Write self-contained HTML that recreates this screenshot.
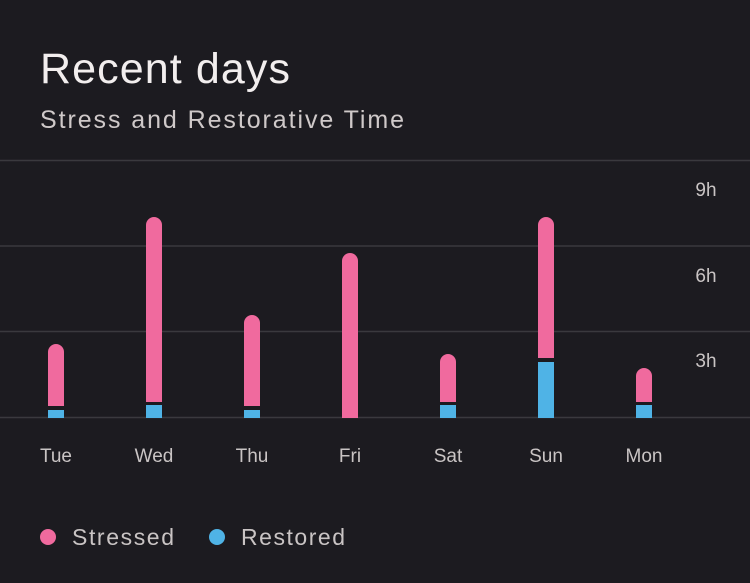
<!DOCTYPE html><html><head><style>
body{margin:0;width:750px;height:578px;background:#1c1b20;overflow:hidden;font-family:"Liberation Sans",sans-serif}
</style></head><body>
<svg width="750" height="578" xmlns="http://www.w3.org/2000/svg">
<rect width="750" height="578" fill="#1c1b20"/>
<text x="40" y="83" fill="#f2eeee" font-size="43" textLength="250" font-family="Liberation Sans">Recent days</text>
<text x="40" y="128" fill="#cfc9c9" font-size="25" textLength="364" font-family="Liberation Sans">Stress and Restorative Time</text>
<g stroke="#3a393e" stroke-width="1.5">
<line x1="0" y1="160.5" x2="750" y2="160.5"/><line x1="0" y1="246" x2="750" y2="246"/>
<line x1="0" y1="331.5" x2="750" y2="331.5"/><line x1="0" y1="417.5" x2="750" y2="417.5"/></g>
<g fill="#c9c4c4" font-size="19" text-anchor="middle" font-family="Liberation Sans">
<text x="706" y="196">9h</text><text x="706" y="282">6h</text><text x="706" y="367">3h</text>
<text x="56" y="462">Tue</text><text x="154" y="462">Wed</text><text x="252" y="462">Thu</text><text x="350" y="462">Fri</text><text x="448" y="462">Sat</text><text x="546" y="462">Sun</text><text x="644" y="462">Mon</text></g>
<g fill="#f06a9e">
<path d="M48 406V352a8 8 0 0 1 16 0V406Z"/>
<path d="M146 402V225a8 8 0 0 1 16 0V402Z"/>
<path d="M244 406V323a8 8 0 0 1 16 0V406Z"/>
<path d="M342 418V261a8 8 0 0 1 16 0V418Z"/>
<path d="M440 402V362a8 8 0 0 1 16 0V402Z"/>
<path d="M538 358V225a8 8 0 0 1 16 0V358Z"/>
<path d="M636 402V376a8 8 0 0 1 16 0V402Z"/>
</g>
<g fill="#4fb3e6">
<rect x="48" y="410" width="16" height="8"/>
<rect x="146" y="405" width="16" height="13"/>
<rect x="244" y="410" width="16" height="8"/>
<rect x="440" y="405" width="16" height="13"/>
<rect x="538" y="362" width="16" height="56"/>
<rect x="636" y="405" width="16" height="13"/>
</g>
<circle cx="48" cy="537" r="8" fill="#f06a9e"/>
<text x="72" y="545" fill="#c9c4c4" font-size="23" textLength="102" font-family="Liberation Sans">Stressed</text>
<circle cx="217" cy="537" r="8" fill="#4fb3e6"/>
<text x="241" y="545" fill="#c9c4c4" font-size="23" textLength="104" font-family="Liberation Sans">Restored</text>
</svg></body></html>
